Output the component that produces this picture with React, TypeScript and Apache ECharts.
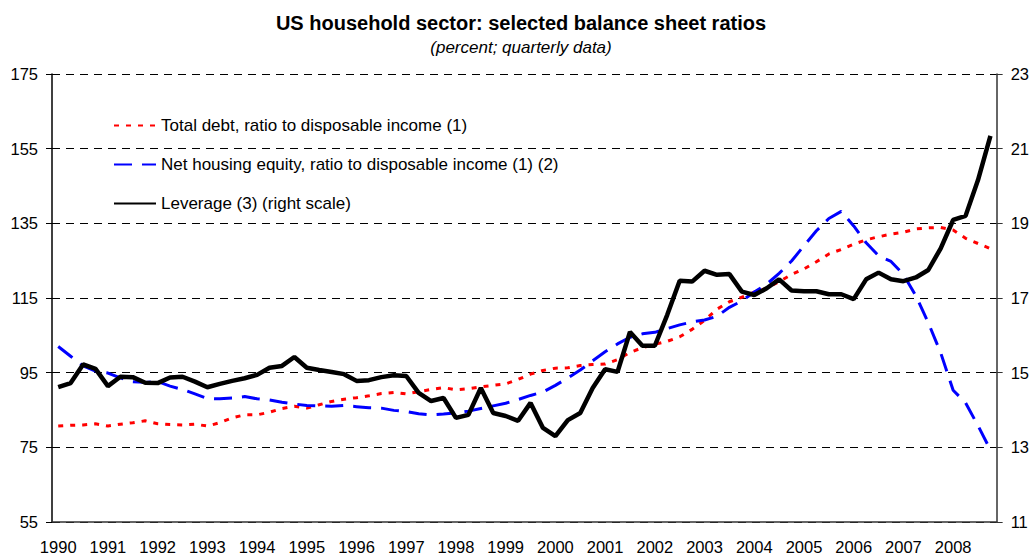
import React, { useEffect, useRef } from "react";
import * as echarts from "echarts";

const years = ["1990","1991","1992","1993","1994","1995","1996","1997","1998","1999","2000","2001","2002","2003","2004","2005","2006","2007","2008"];
const quarterNames = ["Q1", "Q2", "Q3", "Q4"];
const categories = years.flatMap((y) => quarterNames.map((q) => y + " " + q));

const leftTicks = { min: 55, max: 175, interval: 20 };
const rightTicks = { min: 11, max: 23, interval: 2 };

const totalDebt = [
  80.7, 80.9, 81.0, 81.3, 80.7, 81.2, 81.6, 82.1, 81.3, 81.1, 81.0, 81.2, 80.7, 81.6, 82.9, 83.7,
  83.7, 84.4, 85.4, 86.0, 85.5, 86.4, 87.3, 87.9, 88.3, 88.8, 89.4, 89.7, 89.3, 89.9, 90.5, 91.0,
  90.4, 90.7, 91.2, 91.6, 92.0, 93.2, 94.6, 95.6, 96.2, 96.3, 96.9, 97.2, 97.3, 98.5, 100.4, 101.7,
  102.6, 103.4, 104.6, 106.6, 109.0, 112.0, 114.0, 115.2, 116.6, 117.6, 119.4, 121.3, 122.8, 124.7,
  126.8, 128.0, 129.4, 130.6, 131.4, 132.1, 132.6, 133.5, 133.8, 133.9, 133.2, 131.0, 129.6, 128.2
];

const housingEquity = [
  102.0, 99.4, 96.8, 95.4, 94.9, 93.6, 92.6, 92.4, 92.6, 91.4, 90.5, 89.3, 88.1, 88.0, 88.2, 88.6,
  88.0, 87.7, 87.1, 86.6, 86.2, 86.1, 86.0, 86.2, 85.9, 85.6, 85.5, 84.9, 84.6, 84.0, 83.7, 83.9,
  84.2, 84.7, 85.4, 86.1, 86.8, 87.8, 88.9, 89.8, 91.6, 93.6, 95.7, 98.2, 100.6, 102.7, 104.5, 105.4,
  105.8, 106.8, 107.8, 108.6, 109.1, 110.1, 112.5, 114.2, 116.6, 118.7, 121.6, 124.9, 129.0, 133.0,
  136.3, 138.2, 134.3, 129.8, 126.3, 124.8, 121.3, 115.6, 108.4, 100.3, 90.3, 86.9, 80.8, 74.3
];

const leverage = [
  14.61, 14.72, 15.22, 15.10, 14.64, 14.89, 14.88, 14.73, 14.72, 14.87, 14.89, 14.76, 14.61, 14.70, 14.78, 14.85,
  14.94, 15.13, 15.18, 15.42, 15.13, 15.07, 15.02, 14.96, 14.78, 14.80, 14.88, 14.93, 14.91, 14.46, 14.24, 14.32,
  13.79, 13.87, 14.59, 13.92, 13.84, 13.71, 14.19, 13.52, 13.30, 13.73, 13.92, 14.59, 15.09, 15.02, 16.09, 15.72,
  15.72, 16.55, 17.46, 17.44, 17.73, 17.62, 17.64, 17.17, 17.08, 17.26, 17.50, 17.20, 17.18, 17.18,
  17.10, 17.10, 16.97, 17.50, 17.68, 17.50, 17.45, 17.55, 17.75, 18.33, 19.09, 19.20, 20.16, 21.34
];

const seriesNames = [
  "Total debt, ratio to disposable income (1)",
  "Net housing equity, ratio to disposable income (1) (2)",
  "Leverage (3) (right scale)"
];

const FONT = "'Liberation Sans', Arial, sans-serif";

export default function App() {
  const ref = useRef<HTMLDivElement>(null);
  useEffect(() => {
    if (!ref.current) return;
    const chart = echarts.init(ref.current, null, { renderer: "svg" });
    chart.setOption({
      animation: false,
      backgroundColor: "#ffffff",
      title: {
        text: "US household sector: selected balance sheet ratios",
        subtext: "(percent; quarterly data)",
        left: 521,
        textAlign: "center",
        top: 13,
        itemGap: 6,
        padding: 0,
        textStyle: { fontFamily: FONT, fontSize: 20, fontWeight: "bold", color: "#000" },
        subtextStyle: { fontFamily: FONT, fontSize: 17, fontStyle: "italic", color: "#000" }
      },
      legend: {
        orient: "vertical",
        left: 113,
        top: 117,
        padding: 0,
        itemWidth: 42,
        itemHeight: 14,
        itemGap: 22,
        textStyle: { fontFamily: FONT, fontSize: 17, color: "#000" },
        itemStyle: { opacity: 0 },
        data: seriesNames
      },
      grid: { left: 52, right: 35, top: 74, bottom: 34, containLabel: false },
      xAxis: {
        type: "category",
        data: categories,
        boundaryGap: true,
        axisLine: { lineStyle: { color: "#333", width: 1.5 } },
        axisTick: { interval: 3, length: 6, lineStyle: { color: "#333" } },
        axisLabel: {
          interval: 3,
          margin: 16,
          fontFamily: FONT,
          fontSize: 16.5,
          color: "#000",
          formatter: (v: string) => v.slice(0, 4)
        },
        splitLine: { show: false }
      },
      yAxis: [
        {
          type: "value",
          position: "left",
          ...leftTicks,
          axisLine: { show: true, lineStyle: { color: "#000", width: 1.5 } },
          axisTick: { show: true, length: 6, lineStyle: { color: "#000" } },
          axisLabel: { margin: 14, fontFamily: FONT, fontSize: 16.5, color: "#000" },
          splitLine: { show: true, lineStyle: { color: "#000", type: [8, 6], width: 1 } }
        },
        {
          type: "value",
          position: "right",
          ...rightTicks,
          axisLine: { show: true, lineStyle: { color: "#333", width: 1.5 } },
          axisTick: { show: true, length: 6, lineStyle: { color: "#333" } },
          axisLabel: { margin: 14, fontFamily: FONT, fontSize: 16.5, color: "#000" },
          splitLine: { show: false }
        }
      ],
      series: [
        {
          name: seriesNames[0],
          type: "line",
          yAxisIndex: 0,
          data: totalDebt,
          symbol: "none",
          color: "#ff0000",
          lineStyle: { color: "#ff0000", width: 3, type: [5, 7] }
        },
        {
          name: seriesNames[1],
          type: "line",
          yAxisIndex: 0,
          data: housingEquity,
          symbol: "none",
          color: "#0000ff",
          lineStyle: { color: "#0000ff", width: 3, type: [18, 10] }
        },
        {
          name: seriesNames[2],
          type: "line",
          yAxisIndex: 1,
          data: leverage,
          symbol: "none",
          color: "#000000",
          lineStyle: { color: "#000000", width: 4.5 }
        }
      ]
    });
    return () => chart.dispose();
  }, []);
  return (
    <div
      ref={ref}
      style={{ position: "fixed", left: 0, top: 0, width: 1032, height: 556, background: "#fff" }}
    />
  );
}
